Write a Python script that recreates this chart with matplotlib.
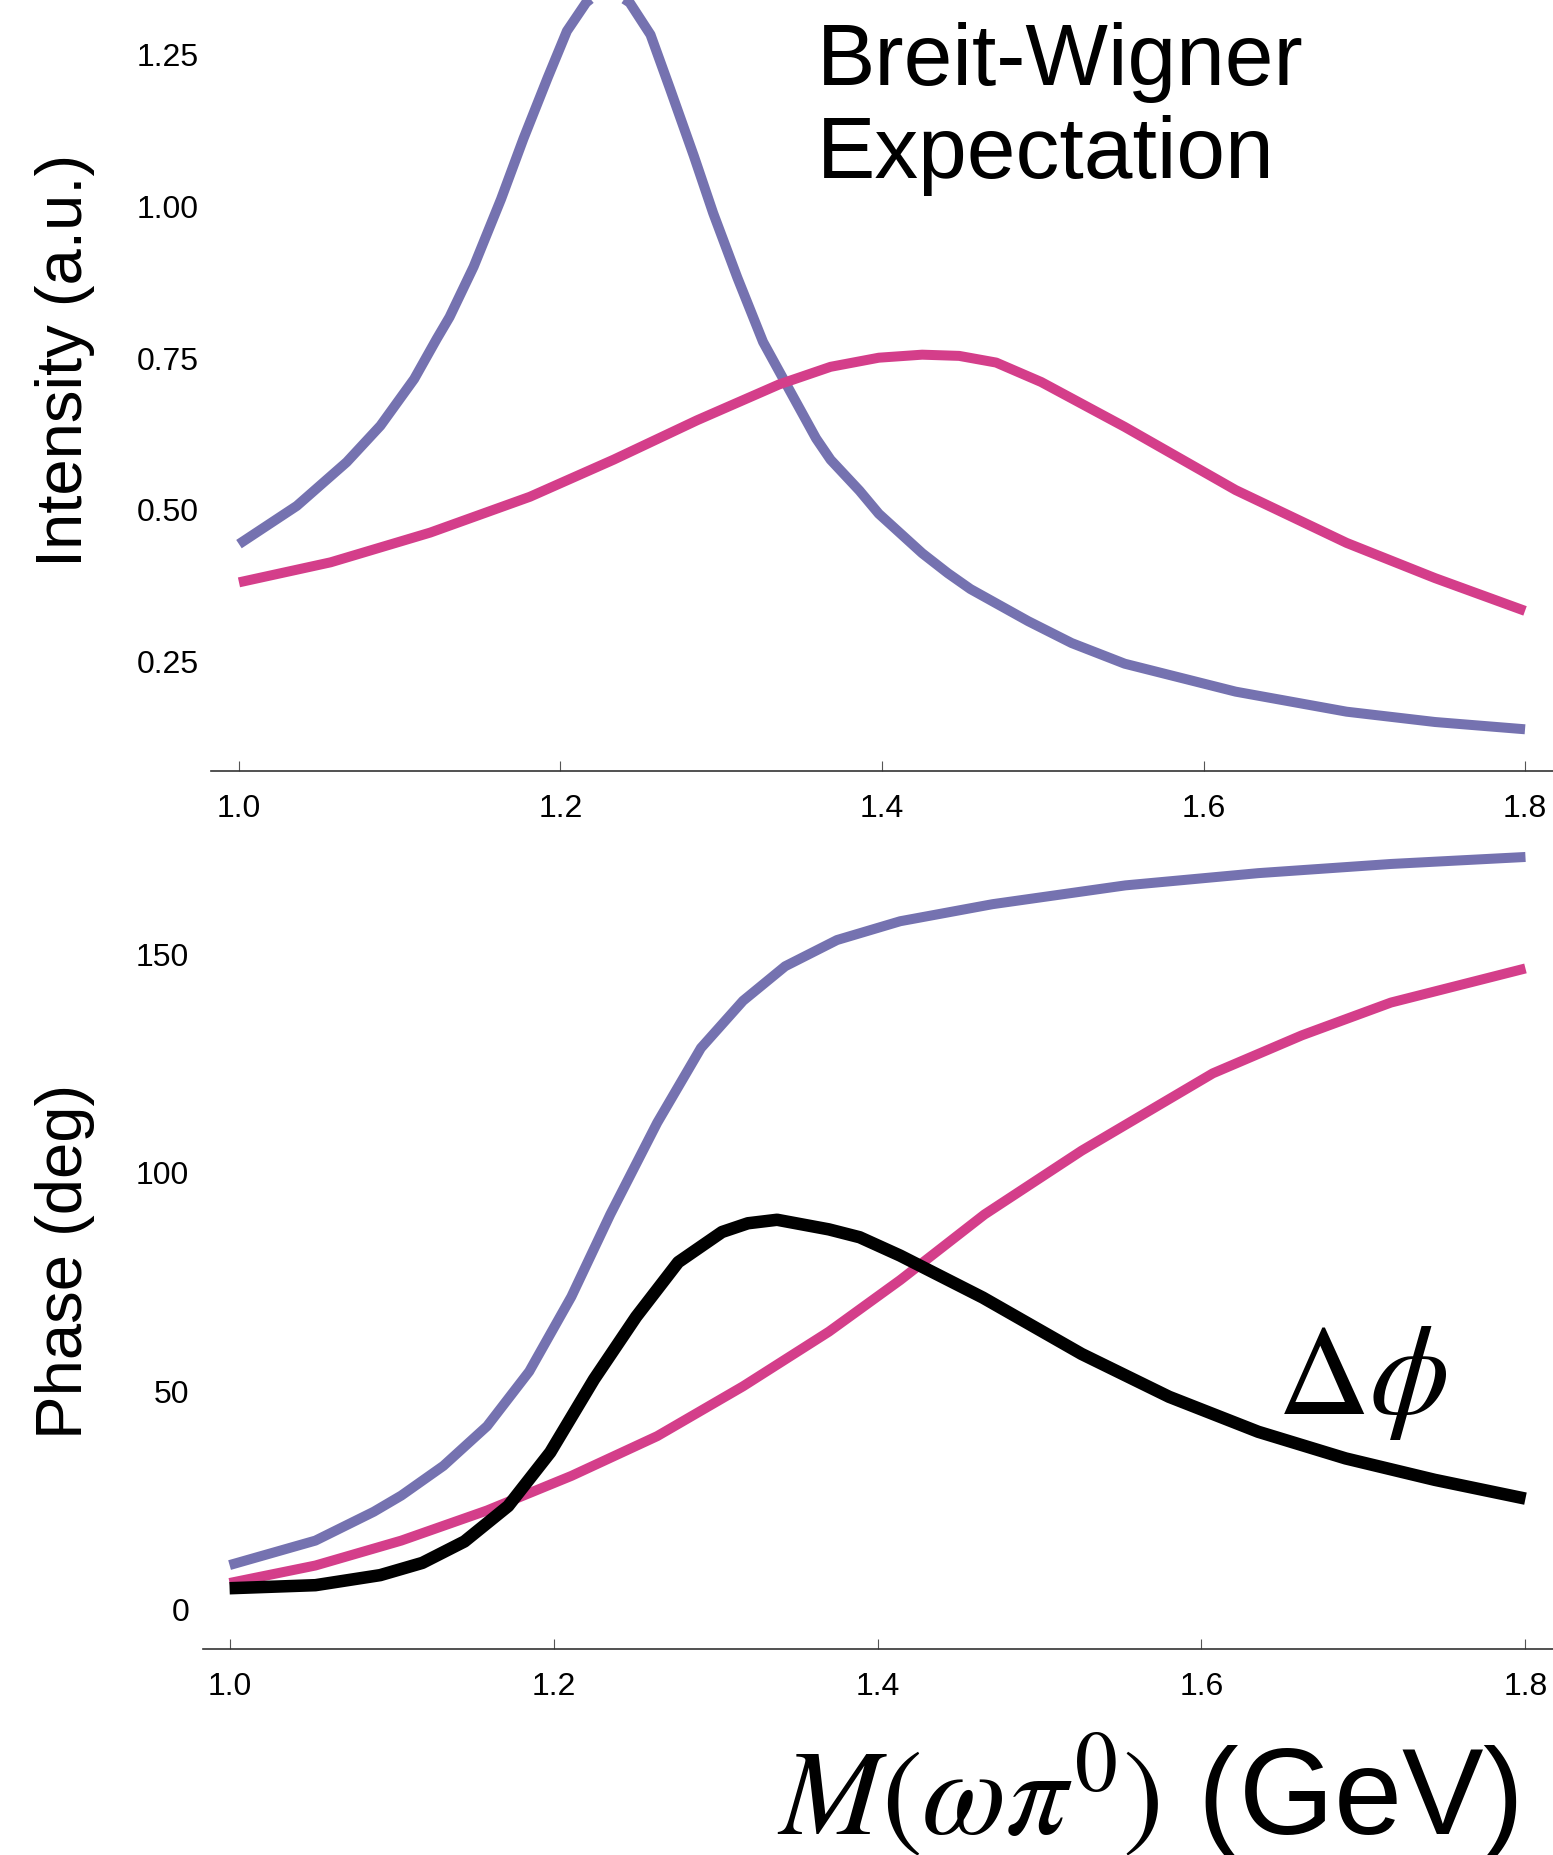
import numpy as np
import matplotlib
matplotlib.use("Agg")
import matplotlib.pyplot as plt

plt.rcParams['font.family'] = ['Liberation Sans', 'DejaVu Sans']
plt.rcParams['mathtext.fontset'] = 'stix'

# intensity curves (top panel)
m_int_a = [1.000, 1.036, 1.067, 1.088, 1.109, 1.123, 1.131, 1.146, 1.163, 1.177,
           1.192, 1.204, 1.216, 1.228, 1.243, 1.256, 1.268, 1.283, 1.295, 1.310,
           1.326, 1.343, 1.359, 1.368, 1.386, 1.398, 1.425, 1.441, 1.455, 1.491,
           1.518, 1.551, 1.620, 1.689, 1.744, 1.800]
int_a = [0.442, 0.505, 0.577, 0.637, 0.714, 0.780, 0.816, 0.899, 1.010, 1.110,
         1.210, 1.287, 1.334, 1.360, 1.334, 1.281, 1.193, 1.081, 0.987, 0.881,
         0.775, 0.693, 0.616, 0.581, 0.530, 0.492, 0.427, 0.394, 0.368, 0.315,
         0.279, 0.245, 0.199, 0.166, 0.149, 0.137]

m_int_b = [1.000, 1.057, 1.119, 1.181, 1.233, 1.285, 1.336, 1.368, 1.398, 1.425,
           1.448, 1.471, 1.499, 1.551, 1.620, 1.689, 1.744, 1.800]
int_b = [0.379, 0.412, 0.461, 0.520, 0.581, 0.646, 0.705, 0.734, 0.749, 0.754,
         0.752, 0.741, 0.709, 0.635, 0.531, 0.444, 0.386, 0.332]

# phase curves (bottom panel)
m_ph_a = [1.000, 1.053, 1.089, 1.106, 1.132, 1.159, 1.185, 1.211, 1.235, 1.264,
          1.291, 1.317, 1.343, 1.375, 1.414, 1.471, 1.553, 1.635, 1.717, 1.800]
ph_a = [10.0, 15.6, 22.2, 25.9, 32.7, 41.8, 54.3, 71.4, 90.2, 111.2,
        128.3, 139.1, 147.0, 153.0, 157.3, 161.2, 165.5, 168.3, 170.4, 172.0]

m_ph_b = [1.000, 1.053, 1.106, 1.159, 1.211, 1.264, 1.317, 1.370, 1.414, 1.466,
          1.526, 1.607, 1.662, 1.717, 1.800]
ph_b = [5.9, 9.9, 15.6, 22.5, 30.4, 39.5, 50.9, 63.4, 75.2, 90.2,
        104.8, 122.5, 131.2, 138.7, 146.5]

m_dphi = [1.000, 1.053, 1.093, 1.119, 1.145, 1.172, 1.198, 1.225, 1.251, 1.277,
          1.304, 1.320, 1.338, 1.370, 1.389, 1.414, 1.465, 1.526, 1.580, 1.635,
          1.689, 1.744, 1.800]
dphi = [4.7, 5.4, 7.7, 10.5, 15.4, 23.5, 35.8, 52.5, 66.8, 79.3,
        86.2, 88.2, 89.0, 86.8, 85.0, 80.8, 71.2, 58.3, 48.5, 40.5,
        34.4, 29.5, 25.2]

x_ticks = [1.0, 1.2, 1.4, 1.6, 1.8]
int_ticks = [0.25, 0.50, 0.75, 1.00, 1.25]
ph_ticks = [0, 50, 100, 150]

purple = '#7572b0'
pink = '#d43e8a'

W, H = 1553, 1856
fig = plt.figure(figsize=(W / 100, H / 100), dpi=100)


def style_axis(ax, yticks, fmt):
    for s in ['left', 'right', 'top']:
        ax.spines[s].set_visible(False)
    ax.spines['bottom'].set_color('#333333')
    ax.spines['bottom'].set_linewidth(1.2)
    ax.set_xticks(x_ticks)
    ax.set_xticklabels(['%.1f' % t for t in x_ticks])
    ax.tick_params(axis='x', direction='in', length=7, width=0.8, color='#555555',
                   labelsize=23, pad=16)
    ax.set_yticks(yticks)
    ax.set_yticklabels([fmt % t for t in yticks])
    ax.tick_params(axis='y', length=0, labelsize=23, pad=9)
    ax.patch.set_visible(False)


line_kw = dict(solid_capstyle='butt', solid_joinstyle='round')

# top panel: intensity
ax1 = fig.add_axes([211 / W, 1 - 772 / H, 1 - 211 / W, 772 / H])
ax1.plot(m_int_a, int_a, color=purple, lw=7.2, **line_kw)
ax1.plot(m_int_b, int_b, color=pink, lw=7.2, **line_kw)
ax1.set_xlim(0.9826, 1.8174)
ax1.set_ylim(0.0683, 1.3398)
style_axis(ax1, int_ticks, '%.2f')

# bottom panel: phase
ax2 = fig.add_axes([203 / W, 1 - 1650 / H, 1 - 203 / W, (1650 - 830) / H])
ax2.plot(m_ph_a, ph_a, color=purple, lw=7.2, **line_kw)
ax2.plot(m_ph_b, ph_b, color=pink, lw=7.2, **line_kw)
ax2.plot(m_dphi, dphi, color='black', lw=9, **line_kw)
ax2.set_xlim(0.9836, 1.817)
ax2.set_ylim(-9.2, 178.4)
style_axis(ax2, ph_ticks, '%d')
ax2.tick_params(axis='y', pad=10)

# labels
fig.text(65 / W, 1 - 360 / H, 'Intensity (a.u.)', rotation=90, ha='center', va='center', fontsize=47)
fig.text(65 / W, 1 - 1261 / H, 'Phase (deg)', rotation=90, ha='center', va='center', fontsize=47)
fig.text(817 / W, 1 - 85 / H, 'Breit-Wigner', ha='left', va='baseline', fontsize=63)
fig.text(817 / W, 1 - 178 / H, 'Expectation', ha='left', va='baseline', fontsize=63)
fig.text(1277 / W, 1 - 1414 / H, r'$\Delta\phi$', ha='left', va='baseline', fontsize=92)
fig.text(1518 / W, 1 - 1834 / H, r'$M(\omega\pi^0)$ (GeV)', ha='right', va='baseline', fontsize=88)

fig.savefig('out.png', dpi=100)
